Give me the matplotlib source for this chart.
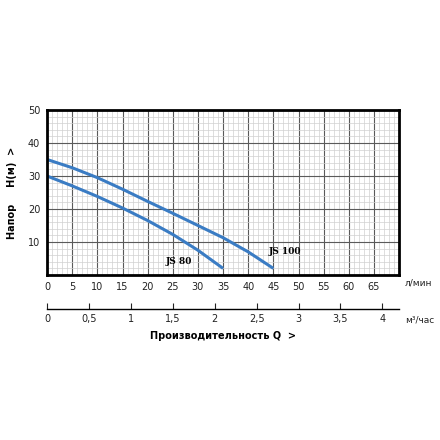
import matplotlib.pyplot as plt
import numpy as np

plt.rcParams['font.family'] = ['DejaVu Sans']

# расход, л/мин и напор, м
q_js100 = [0, 5, 10, 15, 20, 25, 30, 35, 40, 45]
h_js100 = [35, 32.5, 29.5, 26, 22.3, 18.7, 15, 11.3, 7, 2]
q_js80 = [0, 5, 10, 15, 20, 25, 30, 35]
h_js80 = [30, 27, 23.8, 20.3, 16.5, 12.3, 7.5, 2]

x_ticks = list(range(0, 70, 5))
y_ticks = [10, 20, 30, 40, 50]
m3_ticks = [0, 0.5, 1, 1.5, 2, 2.5, 3, 3.5, 4]
m3_labels = ['0', '0,5', '1', '1,5', '2', '2,5', '3', '3,5', '4']

blue = '#3a7cc4'

fig = plt.figure(figsize=(4.4, 4.4), dpi=100)
ax = fig.add_axes([0.107, 0.375, 0.8, 0.375])
ax.set_xlim(0, 70)
ax.set_ylim(0, 50)

ax.set_xticks(np.arange(0, 71, 1), minor=True)
ax.set_yticks(np.arange(0, 51, 2), minor=True)
ax.set_xticks(x_ticks)
ax.set_yticks(y_ticks)
ax.set_xticklabels([str(t) for t in x_ticks])
ax.grid(which='minor', color='#d0d0d0', lw=0.5)
ax.grid(which='major', color='#5a5a5a', lw=0.8)
ax.tick_params(which='both', length=0, labelsize=7, colors='#222222', pad=5)
for s in ax.spines.values():
    s.set_linewidth(2)
    s.set_color('black')

ax.plot(q_js100, h_js100, color=blue, lw=2.2, solid_capstyle='butt', solid_joinstyle='round')
ax.plot(q_js80, h_js80, color=blue, lw=2.2, solid_capstyle='butt', solid_joinstyle='round')
ax.text(23.5, 3.2, 'JS 80', fontsize=6.5, fontweight='bold', fontfamily='DejaVu Serif')
ax.text(44, 6.5, 'JS 100', fontsize=6.5, fontweight='bold', fontfamily='DejaVu Serif')

fig.text(0.92, 0.357, 'л/мин', fontsize=6.5, va='center', ha='left', color='#222222')
fig.text(0.92, 0.272, 'м³/час', fontsize=6.5, va='center', ha='left', color='#222222')
ax.set_ylabel('Напор     H(м)  >', fontsize=7, fontweight='bold', labelpad=8)

# вторая шкала, м³/час
ax2 = fig.add_axes([0.107, 0.298, 0.8, 0.001])
ax2.set_xlim(0, 70 * 60 / 1000)
ax2.set_ylim(0, 1)
ax2.set_yticks([])
ax2.set_facecolor('none')
for k in ['top', 'left', 'right']:
    ax2.spines[k].set_visible(False)
ax2.spines['bottom'].set_linewidth(1)
ax2.set_xticks(m3_ticks)
ax2.set_xticklabels(m3_labels)
ax2.tick_params(direction='in', length=4, labelsize=7, colors='#222222', pad=4)
ax2.set_xlabel('Производительность Q  >', fontsize=7, fontweight='bold', labelpad=5)

fig.savefig('out.png', dpi=100)
